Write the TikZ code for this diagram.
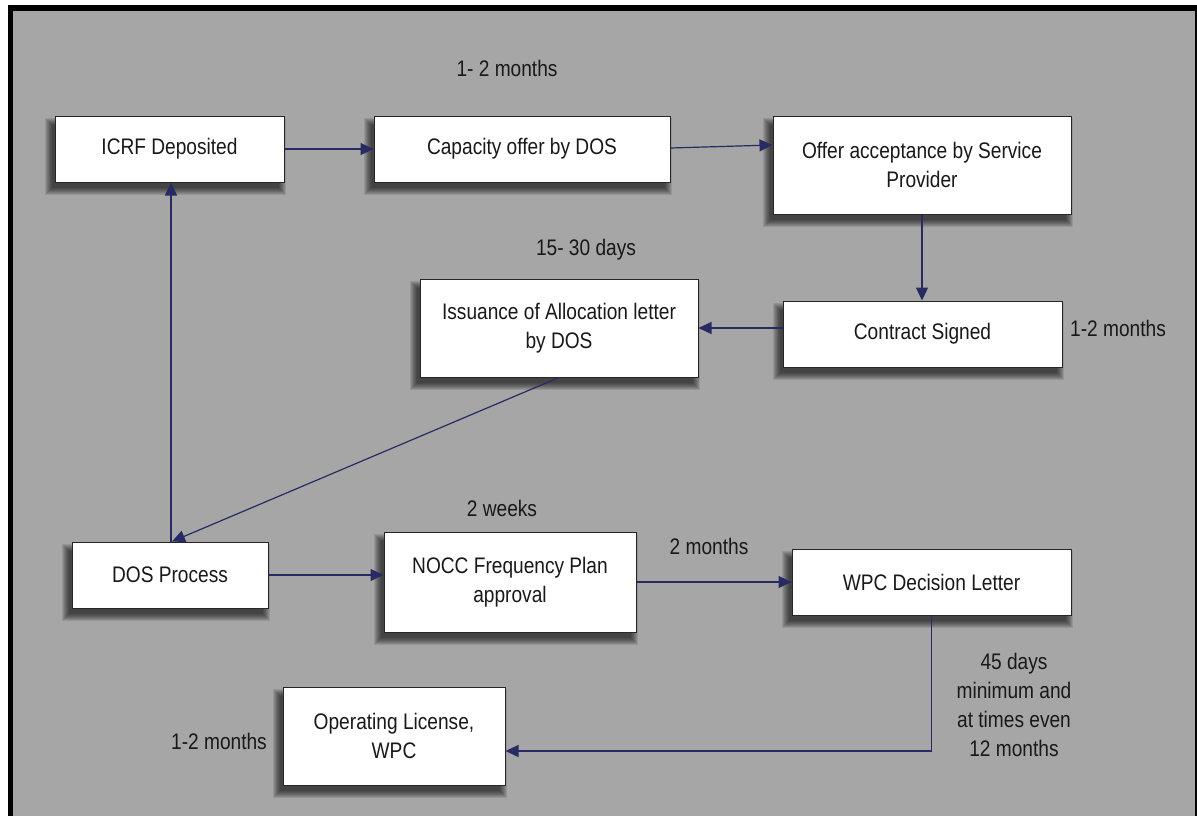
\documentclass[tikz,border=0pt]{standalone}
\usepackage{fontspec}
\setmainfont{Liberation Sans}[FakeStretch=0.85]
\usetikzlibrary{arrows.meta,calc,backgrounds}
\definecolor{bggrey}{RGB}{166,166,166}
\definecolor{navyline}{RGB}{40,42,100}
\definecolor{txt}{RGB}{25,25,25}
\tikzset{
  stepbox/.style={draw=black!85, fill=white, line width=1pt, align=center,
    inner sep=0pt, text=txt, font=\fontsize{22.5}{29}\selectfont},
  lbl/.style={align=center, inner sep=0pt, text=txt, font=\fontsize{22.5}{29}\selectfont},
  conn/.style={draw=navyline, line width=1.2pt, -{Triangle[length=13pt,width=12pt]}}
}
\newcommand\boxshadow[1]{%
  \foreach \k in {0,...,7}{%
    \fill[black, fill opacity=0.1] ($(#1.north west)+(-3-\k,9-\k)$) rectangle ($(#1.south east)+(-6+\k,5+\k)$);
  }%
}
\begin{document}
\begin{tikzpicture}[x=1pt,y=-1pt]
\useasboundingbox (0,0) rectangle (1197,815);
% boxes
\node[stepbox, minimum width=229pt, minimum height=66pt] (icrf) at (169.5,149) {ICRF Deposited};
\node[stepbox, minimum width=296pt, minimum height=66pt] (cap) at (522,149) {Capacity offer by DOS};
\node[stepbox, minimum width=298pt, minimum height=98pt] (offer) at (922,165) {Offer acceptance by Service\\Provider};
\node[stepbox, minimum width=278pt, minimum height=98pt] (iss) at (559,328) {Issuance of Allocation letter\\by DOS};
\node[stepbox, minimum width=279pt, minimum height=66pt] (contract) at (922.5,334) {Contract Signed};
\node[stepbox, minimum width=196pt, minimum height=66pt] (dos) at (170,575) {DOS Process};
\node[stepbox, minimum width=252pt, minimum height=100pt] (nocc) at (510,582) {NOCC Frequency Plan\\approval};
\node[stepbox, minimum width=279pt, minimum height=66pt] (wpc) at (931.5,582) {WPC Decision Letter};
\node[stepbox, minimum width=222pt, minimum height=98pt] (oplic) at (394,736) {Operating License,\\WPC};
% labels
\node[lbl] (l1) at (507,68) {1- 2 months};
\node[lbl] (l2) at (586,250) {15- 30 days};
\node[lbl] (l3) at (1118,328) {1-2 months};
\node[lbl] (l4) at (502,508) {2 weeks};
\node[lbl] (l5) at (709,546) {2 months};
\node[lbl] (l6) at (1014,705) {45 days\\minimum and\\at times even\\12 months};
\node[lbl] (l7) at (219,741) {1-2 months};
% background
\begin{pgfonlayer}{background}
  \fill[white] (0,0) rectangle (1197,815);
  \fill[black] (8,5) rectangle (1200,820);
  \fill[bggrey] (13,11) rectangle (1195,820);
  \boxshadow{icrf}
  \boxshadow{cap}
  \boxshadow{offer}
  \boxshadow{iss}
  \boxshadow{contract}
  \boxshadow{dos}
  \boxshadow{nocc}
  \boxshadow{wpc}
  \boxshadow{oplic}
\end{pgfonlayer}
% connectors
\draw[conn] (icrf.east) -- (icrf.east -| cap.west);
\draw[conn] ([yshift=1pt]cap.east) -- ([yshift=20pt]offer.west);
\draw[conn] (offer.south) -- (offer.south |- contract.north);
\draw[conn] (contract.west |- iss.east) -- (iss.east);
\draw[conn] (iss.south) -- ([xshift=2pt]dos.north);
\draw[conn] ([xshift=1pt]dos.north) -- ([xshift=1pt]dos.north |- icrf.south);
\draw[conn] (dos.east) -- (dos.east -| nocc.west);
\draw[conn] (nocc.east) -- (wpc.west);
\draw[conn] (wpc.south) |- ([yshift=-15pt]oplic.east);
\end{tikzpicture}
\end{document}
